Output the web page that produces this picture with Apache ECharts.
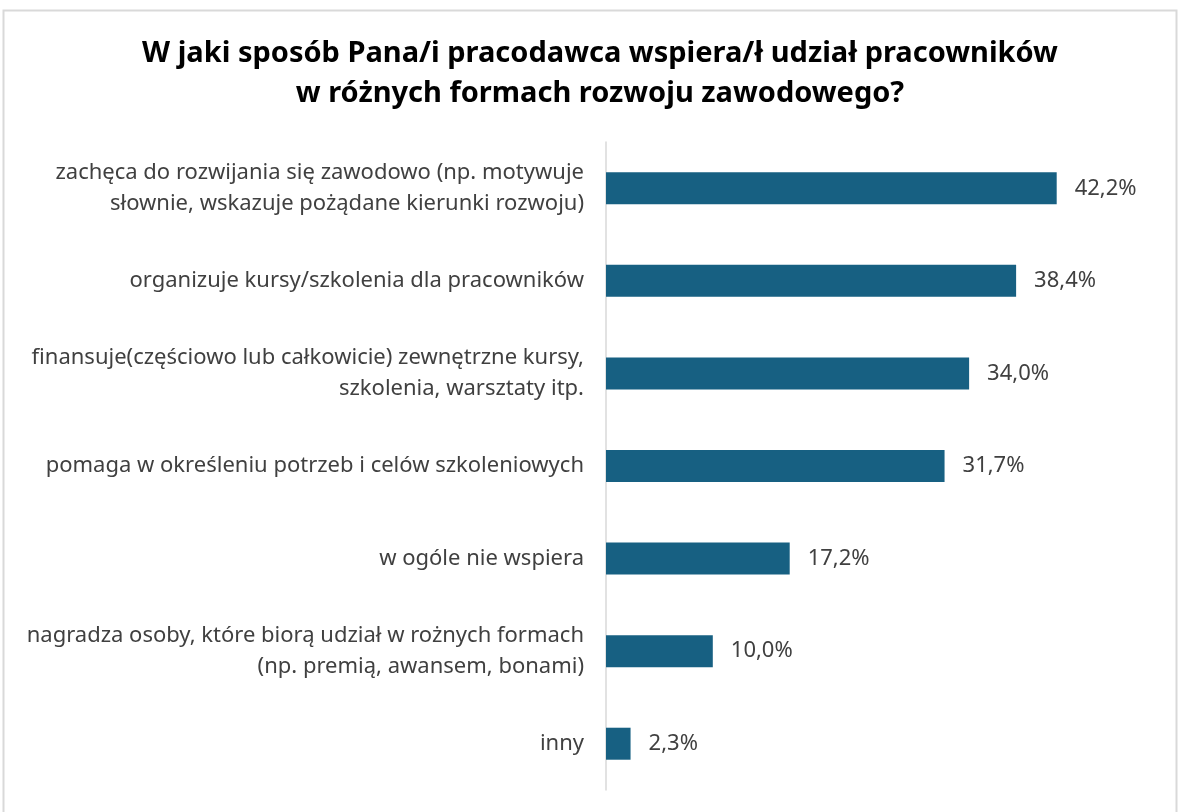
<!DOCTYPE html>
<html>
<head>
<meta charset="utf-8">
<script src="https://cdn.jsdelivr.net/npm/echarts@6/dist/echarts.min.js"></script>
<style>
html,body{margin:0;padding:0;background:#fff;}
#chart{width:1180px;height:812px;}
</style>
</head>
<body>
<div id="chart"></div>
<script>
// Survey answers, top to bottom
const categories = [
  'zachęca do rozwijania się zawodowo (np. motywuje\nsłownie, wskazuje pożądane kierunki rozwoju)',
  'organizuje kursy/szkolenia dla pracowników',
  'finansuje(częściowo lub całkowicie) zewnętrzne kursy,\nszkolenia, warsztaty itp.',
  'pomaga w określeniu potrzeb i celów szkoleniowych',
  'w ogóle nie wspiera',
  'nagradza osoby, które biorą udział w rożnych formach\n(np. premią, awansem, bonami)',
  'inny'
];
const shares = [42.2, 38.4, 34.0, 31.7, 17.2, 10.0, 2.3];
const titleLines = [
  'W jaki sposób Pana/i pracodawca wspiera/ł udział pracowników',
  'w różnych formach rozwoju zawodowego?'
];

const FONT = 'Noto Sans';

const chart = echarts.init(document.getElementById('chart'));
chart.setOption({
  backgroundColor: '#ffffff',
  animation: false,
  title: {
    text: titleLines.join('\n'),
    left: 595,
    textAlign: 'center',
    top: 29,
    textStyle: {
      fontFamily: FONT,
      fontWeight: 'bold',
      fontSize: 29,
      lineHeight: 40,
      color: '#000000'
    }
  },
  graphic: [{
    type: 'rect',
    shape: { x: 3.5, y: 10.5, width: 1173, height: 820 },
    style: { fill: 'none', stroke: '#d9d9d9', lineWidth: 2 },
    silent: true,
    z: -1
  }],
  grid: { left: 606, right: 40, top: 142, bottom: 22, containLabel: false },
  xAxis: {
    type: 'value',
    min: 0,
    max: 50,
    show: false
  },
  yAxis: {
    type: 'category',
    inverse: true,
    data: categories,
    axisLine: { show: true, lineStyle: { color: '#d9d9d9', width: 1.5 } },
    axisTick: { show: false },
    axisLabel: {
      margin: 22,
      fontFamily: FONT,
      fontSize: 22,
      lineHeight: 31,
      color: '#404040',
      align: 'right'
    }
  },
  series: [{
    type: 'bar',
    data: shares,
    barWidth: 32,
    itemStyle: { color: '#176082' },
    label: {
      show: true,
      position: 'right',
      distance: 18,
      fontFamily: FONT,
      fontSize: 22,
      color: '#404040',
      formatter: p => p.value.toFixed(1).replace('.', ',') + '%'
    }
  }]
});
</script>
</body>
</html>
